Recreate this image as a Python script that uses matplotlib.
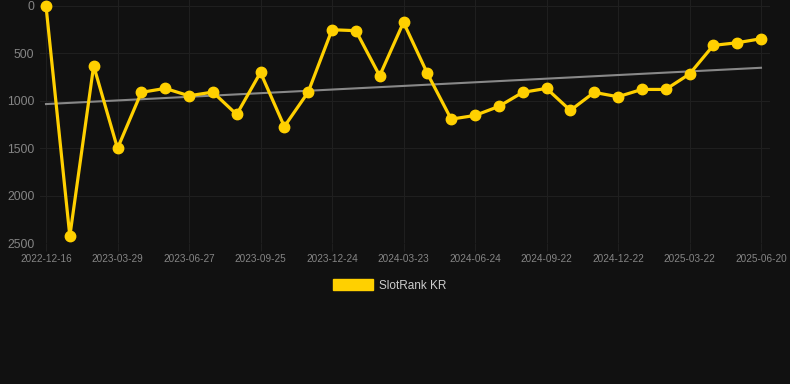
import numpy as np
import matplotlib
matplotlib.use("Agg")
import matplotlib.pyplot as plt
from matplotlib.patches import Patch

plt.rcParams['font.family'] = ['Liberation Sans', 'DejaVu Sans']

series_name = "SlotRank KR"
tick_labels = ["2022-12-16", "2023-03-29", "2023-06-27", "2023-09-25", "2023-12-24",
               "2024-03-23", "2024-06-24", "2024-09-22", "2024-12-22", "2025-03-22",
               "2025-06-20"]
ranks = [0, 2425, 630, 1500, 910, 868, 946, 907, 1143, 700, 1270, 907, 250, 260, 735,
         172, 710, 1192, 1153, 1058, 910, 868, 1100, 910, 956, 879, 879, 717, 415, 387, 345]

W, H = 790, 384
fig = plt.figure(figsize=(W / 100, H / 100), dpi=100)
fig.patch.set_facecolor("#111111")

ax_left, ax_right = 40, 770
ax_top, ax_bottom = 0, 243.3
ax = fig.add_axes([ax_left / W, 1 - ax_bottom / H, (ax_right - ax_left) / W, (ax_bottom - ax_top) / H])
ax.set_facecolor("#111111")

x = np.arange(len(ranks))
y = np.array(ranks, dtype=float)

# trend line (linear regression)
coef = np.polyfit(x, y, 1)
ax.plot([x[0], x[-1]], np.polyval(coef, [x[0], x[-1]]), color="#888888", lw=1.5, zorder=2)

ax.plot(x, y, color="#FFD000", lw=2.3, marker="o", markersize=7.5, solid_joinstyle="miter",
        markerfacecolor="#FFD000", markeredgecolor="#FFD000", zorder=3, clip_on=False)

px_per_idx = (761 - 46) / 30
ax.set_xlim(-(46 - ax_left) / px_per_idx, 30 + (ax_right - 761) / px_per_idx)
px_per_val = (243.3 - 6) / 2500
ax.set_ylim(2500, -6 / px_per_val)

ax.set_xticks(x[::3])
ax.set_xticklabels(tick_labels)
ax.set_yticks([0, 500, 1000, 1500, 2000, 2500])

ax.grid(True, color="#1f1f1f", lw=0.8)
for s in ax.spines.values():
    s.set_visible(False)
ax.tick_params(axis="x", colors="#1f1f1f", labelcolor="#858585", labelsize=7.2, length=6, width=0.8, pad=2)
ax.tick_params(axis="y", length=0, labelcolor="#858585", labelsize=8.8, pad=4)

handle = Patch(facecolor="#FFD000", edgecolor="#FFD000")
leg = fig.legend([handle], [series_name], loc="center", bbox_to_anchor=(390 / W, 1 - 285.5 / H),
                 frameon=False, fontsize=8.5, handlelength=3.4, handleheight=0.95, handletextpad=0.5,
                 labelcolor="#cccccc")

fig.savefig("out.png", dpi=100, facecolor=fig.get_facecolor())
